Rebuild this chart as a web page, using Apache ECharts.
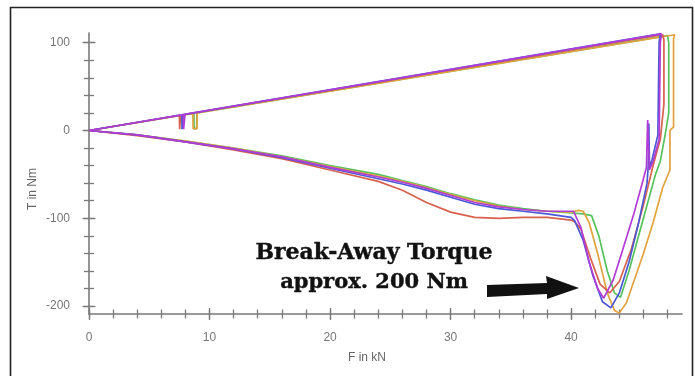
<!DOCTYPE html>
<html><head><meta charset="utf-8">
<script src="https://cdn.jsdelivr.net/npm/echarts@6/dist/echarts.min.js"></script>
<style>html,body{margin:0;padding:0;background:#fff}#c{width:695px;height:376px}</style>
</head><body><div id="c"></div>
<script>
// Tick values
const xMajor = [0, 10, 20, 30, 40];
const xMinor = [0, 2, 4, 6, 8, 10, 12, 14, 16, 18, 20, 22, 24, 26, 28, 30, 32, 34, 36, 38, 40, 42, 44, 46, 48];
const yMajor = [-200, -100, 0, 100];
const yMinor = [-200, -180, -160, -140, -120, -100, -80, -60, -40, -20, 0, 20, 40, 60, 80, 100];

// Curves: F in kN, T in Nm
const greenF = [0, 8.70, 8.72, 8.93, 8.95, 48.0, 48.1, 48.1, 47.8, 47.4, 47.0, 46.4, 45.6, 44.8, 44.1, 43.6, 43.0, 42.3, 41.7, 41.0, 40, 38, 36, 34, 32, 30, 28, 26, 24, 20, 16, 12, 8, 4, 0];
const greenT = [0, 19.6, 2, 2, 20.1, 108, 100, 20, -5, -35, -50, -80, -120, -160, -190, -185, -160, -120, -97, -95, -94, -92, -89, -85, -79, -72, -64, -57, -50, -40, -29, -20, -12, -5, 0];

const orangeF = [0, 8.62, 8.64, 8.96, 8.98, 48.6, 48.5, 48.5, 48.2, 48.2, 47.6, 46.8, 46.0, 45.0, 44.6, 44.0, 43.6, 43.0, 42.2, 41.5, 41.0, 40.6, 40, 38, 36, 34, 32, 30, 28, 26, 24, 20, 16, 12, 8, 4, 0];
const orangeT = [0, 19.3, 2, 2, 20.1, 109, 105, 4, 0, -45, -65, -105, -140, -180, -196, -208, -205, -185, -140, -105, -92, -91, -93, -92, -90, -86, -80, -73, -65, -58, -52, -41, -30, -20, -12, -5, 0];

const redF = [0, 7.50, 7.52, 7.58, 7.60, 47.6, 47.7, 47.7, 47.4, 46.8, 46.0, 45.0, 44.0, 43.2, 42.4, 41.6, 40.8, 40.3, 40, 38, 36, 34, 32, 30, 28, 26, 24, 20, 16, 12, 8, 4, 0];
const redT = [0, 17.2, 1.5, 1.5, 17.4, 109, 103, 30, -10, -40, -85, -135, -172, -185, -175, -145, -112, -104, -102, -99, -99, -100, -99, -93, -82, -68, -58, -45, -32, -22, -13, -6, 0];

const blueF = [0, 7.70, 7.72, 7.80, 7.82, 47.4, 47.3, 47.2, 46.7, 46.5, 46.45, 46.4, 46.3, 45.6, 44.8, 44.0, 43.3, 42.6, 41.8, 41.0, 40.3, 40, 38, 36, 34, 32, 30, 28, 26, 24, 20, 16, 12, 8, 4, 0];
const blueT = [0, 17.9, 1.5, 1.5, 18.1, 110, 100, -5, -34, -42, 8, -40, -60, -105, -150, -185, -202, -195, -165, -125, -103, -99, -95, -92, -89, -84, -76, -68, -61, -55, -43, -31, -21, -13, -5, 0];

const purpleF = [0, 7.83, 7.85, 7.95, 7.97, 47.5, 47.4, 47.3, 46.8, 46.5, 46.35, 46.25, 45.9, 45.2, 44.3, 43.5, 42.7, 42.2, 41.5, 40.8, 40.2, 40, 38, 36, 34, 32, 30, 28, 26, 24, 20, 16, 12, 8, 4, 0];
const purpleT = [0, 18.1, 1.5, 1.5, 18.5, 110, 100, -10, -35, -45, 12, -42, -60, -95, -135, -170, -191, -180, -150, -110, -92, -92, -92, -90, -87, -82, -74, -66, -59, -53, -42, -30, -21, -13, -5, 0];

const xName = 'F in kN';
const yName = 'T in Nm';
const noteLines = ['Break-Away Torque', 'approx. 200 Nm'];

const X_MIN = 0, X_MAX = 49.2, Y_MIN = -209, Y_MAX = 111;
const AX = '#7a7a7a';

function pairs(F, T) { return F.map((f, i) => [f, T[i]]); }

function xAx(o) {
  return Object.assign({
    type: 'value', gridIndex: 0, position: 'bottom', min: X_MIN, max: X_MAX,
    splitLine: { show: false },
    axisLine: { show: false, onZero: false },
    axisLabel: { show: false },
    axisTick: { show: false }
  }, o);
}
function yAx(o) {
  return Object.assign({
    type: 'value', gridIndex: 0, position: 'left', min: Y_MIN, max: Y_MAX,
    splitLine: { show: false },
    axisLine: { show: false, onZero: false },
    axisLabel: { show: false },
    axisTick: { show: false }
  }, o);
}
const labelStyle = { color: '#777', fontFamily: 'Liberation Sans', fontSize: 12 };

const chart = echarts.init(document.getElementById('c'), null, { renderer: 'canvas' });

function line(name, color, F, T) {
  return {
    name, type: 'line', data: pairs(F, T), showSymbol: false, symbol: 'none',
    clip: false, animation: false,
    lineStyle: { color, width: 1.7 }
  };
}

chart.setOption({
  animation: false,
  grid: { left: 89, right: 13, top: 33, bottom: 62, containLabel: false },
  xAxis: [
    xAx({ axisLine: { show: true, onZero: false, lineStyle: { color: AX, width: 1.6 } },
          axisLabel: Object.assign({ show: true, margin: 18, customValues: xMajor }, labelStyle) }),
    xAx({ offset: 6, axisTick: { show: true, inside: true, length: 12, customValues: xMajor, lineStyle: { color: AX, width: 1.3 } } }),
    xAx({ offset: 4.5, axisTick: { show: true, inside: true, length: 9, customValues: xMinor, lineStyle: { color: AX, width: 1.3 } } })
  ],
  yAxis: [
    yAx({ axisLine: { show: true, onZero: false, lineStyle: { color: AX, width: 1.6 } },
          axisLabel: Object.assign({ show: true, margin: 19, customValues: yMajor }, labelStyle) }),
    yAx({ offset: 6.5, axisTick: { show: true, inside: true, length: 13, customValues: yMajor, lineStyle: { color: AX, width: 1.3 } } }),
    yAx({ offset: 5, axisTick: { show: true, inside: true, length: 10, customValues: yMinor, lineStyle: { color: AX, width: 1.3 } } })
  ],
  series: [
    line('green', '#55c25c', greenF, greenT),
    line('orange', '#e2a23e', orangeF, orangeT),
    line('red', '#d8604e', redF, redT),
    line('blue', '#4a58d6', blueF, blueT),
    line('purple', '#b23cd6', purpleF, purpleT)
  ],
  graphic: [
    { type: 'rect', shape: { x: 10.5, y: 7.5, width: 682, height: 372 }, style: { fill: 'none', stroke: '#222', lineWidth: 1.6 }, silent: true },
    { type: 'text', x: 367, y: 358, style: { text: xName, fill: '#666', font: '12px "Liberation Sans"', align: 'center', verticalAlign: 'middle' } },
    { type: 'text', x: 33, y: 189, rotation: Math.PI / 2, style: { text: yName, fill: '#666', font: '12px "Liberation Sans"', align: 'center', verticalAlign: 'middle' } },
    { type: 'text', x: 374, y: 253, style: { text: noteLines[0], fill: '#111', font: 'bold 22px "DejaVu Serif"', align: 'center', verticalAlign: 'middle', stroke: '#111', lineWidth: 0.4 } },
    { type: 'text', x: 374, y: 283, style: { text: noteLines[1], fill: '#111', font: 'bold 21px "DejaVu Serif"', align: 'center', verticalAlign: 'middle', stroke: '#111', lineWidth: 0.4 } },
    { type: 'polygon', shape: { points: [[487, 285], [547, 283], [546, 276], [579, 288], [547, 299], [547, 294], [487, 297]] }, style: { fill: '#111' } }
  ]
});
</script>
</body></html>
